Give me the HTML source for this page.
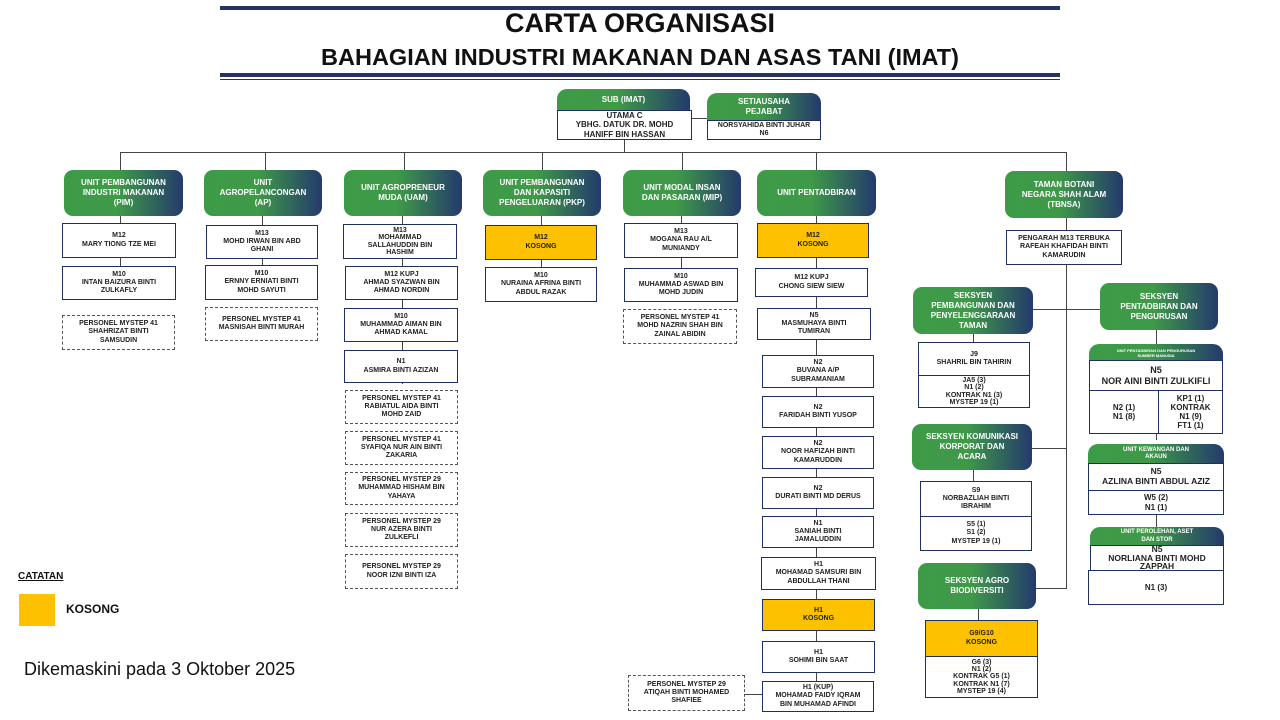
<!DOCTYPE html>
<html><head><meta charset="utf-8"><style>
body{margin:0;width:1280px;height:720px;background:#fff;position:relative;overflow:hidden;font-family:"Liberation Sans",sans-serif}
.a{position:absolute;display:flex;align-items:center;justify-content:center;text-align:center;font-weight:bold;font-size:7px;line-height:1.15;box-sizing:border-box;color:#222}
.h{background:linear-gradient(90deg,#3d9b47 0%,#3f9a48 45%,#243a6c 100%);color:#fff;border-radius:9px;font-size:8px;line-height:1.25}
.t{border-radius:10px 10px 0 0}
.b{border:1px solid #1f2f5e;background:#fff}
.d{border:1px dashed #555;background:#fff}
.y{background:#fdc100}
.l{position:absolute;background:#444}
</style></head><body>
<div class="l" style="left:220px;top:6px;width:840px;height:4px;background:#26335f"></div>
<div class="a" style="left:220px;top:9px;width:840px;height:30px;font-size:27px;color:#111">CARTA ORGANISASI</div>
<div class="a" style="left:200px;top:44px;width:880px;height:28px;font-size:23.5px;color:#111">BAHAGIAN INDUSTRI MAKANAN DAN ASAS TANI (IMAT)</div>
<div class="l" style="left:220px;top:73px;width:840px;height:4px;background:#26335f"></div>
<div class="l" style="left:220px;top:79px;width:840px;height:1px;background:#26335f"></div>

<!-- lines -->
<div class="l" style="left:120px;top:152px;width:946px;height:1px"></div>
<div class="l" style="left:624px;top:140px;width:1px;height:12px"></div>
<div class="l" style="left:692px;top:118px;width:15px;height:1px"></div>
<div class="l" style="left:120px;top:152px;width:1px;height:18px"></div>
<div class="l" style="left:265px;top:152px;width:1px;height:18px"></div>
<div class="l" style="left:404px;top:152px;width:1px;height:18px"></div>
<div class="l" style="left:542px;top:152px;width:1px;height:18px"></div>
<div class="l" style="left:682px;top:152px;width:1px;height:18px"></div>
<div class="l" style="left:816px;top:152px;width:1px;height:18px"></div>
<div class="l" style="left:1066px;top:152px;width:1px;height:19px"></div>
<div class="l" style="left:120px;top:216px;width:1px;height:84px"></div>
<div class="l" style="left:262px;top:216px;width:1px;height:84px"></div>
<div class="l" style="left:402px;top:216px;width:1px;height:168px"></div>
<div class="l" style="left:541px;top:216px;width:1px;height:52px"></div>
<div class="l" style="left:681px;top:216px;width:1px;height:86px"></div>
<div class="l" style="left:816px;top:216px;width:1px;height:480px"></div>
<div class="l" style="left:745px;top:694px;width:17px;height:1px"></div>
<div class="l" style="left:1066px;top:218px;width:1px;height:370px"></div>
<div class="l" style="left:1036px;top:588px;width:31px;height:1px"></div>
<div class="l" style="left:1032px;top:448px;width:35px;height:1px"></div>
<div class="l" style="left:1033px;top:309px;width:67px;height:1px"></div>
<div class="l" style="left:973px;top:334px;width:1px;height:8px"></div>
<div class="l" style="left:973px;top:470px;width:1px;height:11px"></div>
<div class="l" style="left:978px;top:609px;width:1px;height:11px"></div>
<div class="l" style="left:1156px;top:330px;width:1px;height:110px"></div>
<div class="l" style="left:1156px;top:515px;width:1px;height:12px"></div>

<!-- top -->
<div class="a h t" style="left:557px;top:89px;width:133px;height:22px">SUB (IMAT)</div>
<div class="a b" style="left:557px;top:110px;width:135px;height:30px;font-size:8px">UTAMA C<br>YBHG. DATUK DR. MOHD<br>HANIFF BIN HASSAN</div>
<div class="a h t" style="left:707px;top:93px;width:114px;height:28px">SETIAUSAHA<br>PEJABAT</div>
<div class="a b" style="left:707px;top:120px;width:114px;height:20px">NORSYAHIDA BINTI JUHAR<br>N6</div>

<!-- unit headers -->
<div class="a h" style="left:64px;top:170px;width:119px;height:46px">UNIT PEMBANGUNAN<br>INDUSTRI MAKANAN<br>(PIM)</div>
<div class="a h" style="left:204px;top:170px;width:118px;height:46px">UNIT<br>AGROPELANCONGAN<br>(AP)</div>
<div class="a h" style="left:344px;top:170px;width:118px;height:46px">UNIT AGROPRENEUR<br>MUDA (UAM)</div>
<div class="a h" style="left:483px;top:170px;width:118px;height:46px">UNIT PEMBANGUNAN<br>DAN KAPASITI<br>PENGELUARAN (PKP)</div>
<div class="a h" style="left:623px;top:170px;width:118px;height:46px">UNIT MODAL INSAN<br>DAN PASARAN (MIP)</div>
<div class="a h" style="left:757px;top:170px;width:119px;height:46px">UNIT PENTADBIRAN</div>
<div class="a h" style="left:1005px;top:171px;width:118px;height:47px">TAMAN BOTANI<br>NEGARA SHAH ALAM<br>(TBNSA)</div>

<!-- PIM -->
<div class="a b" style="left:62px;top:223px;width:114px;height:35px">M12<br>MARY TIONG TZE MEI</div>
<div class="a b" style="left:62px;top:266px;width:114px;height:34px">M10<br>INTAN BAIZURA BINTI<br>ZULKAFLY</div>
<div class="a d" style="left:62px;top:315px;width:113px;height:35px">PERSONEL MYSTEP 41<br>SHAHRIZAT BINTI<br>SAMSUDIN</div>
<!-- AP -->
<div class="a b" style="left:206px;top:225px;width:112px;height:34px">M13<br>MOHD IRWAN BIN ABD<br>GHANI</div>
<div class="a b" style="left:205px;top:265px;width:113px;height:35px">M10<br>ERNNY ERNIATI BINTI<br>MOHD SAYUTI</div>
<div class="a d" style="left:205px;top:307px;width:113px;height:34px">PERSONEL MYSTEP 41<br>MASNISAH BINTI MURAH</div>
<!-- UAM -->
<div class="a b" style="left:343px;top:224px;width:114px;height:35px;line-height:1.05">M13<br>MOHAMMAD<br>SALLAHUDDIN BIN<br>HASHIM</div>
<div class="a b" style="left:345px;top:266px;width:113px;height:34px">M12 KUPJ<br>AHMAD SYAZWAN BIN<br>AHMAD NORDIN</div>
<div class="a b" style="left:344px;top:308px;width:114px;height:34px">M10<br>MUHAMMAD AIMAN BIN<br>AHMAD KAMAL</div>
<div class="a b" style="left:344px;top:350px;width:114px;height:33px">N1<br>ASMIRA BINTI AZIZAN</div>
<div class="a d" style="left:345px;top:390px;width:113px;height:34px">PERSONEL MYSTEP 41<br>RABIATUL AIDA BINTI<br>MOHD ZAID</div>
<div class="a d" style="left:345px;top:431px;width:113px;height:34px">PERSONEL MYSTEP 41<br>SYAFIQA NUR AIN BINTI<br>ZAKARIA</div>
<div class="a d" style="left:345px;top:472px;width:113px;height:33px">PERSONEL MYSTEP 29<br>MUHAMMAD HISHAM BIN<br>YAHAYA</div>
<div class="a d" style="left:345px;top:513px;width:113px;height:34px">PERSONEL MYSTEP 29<br>NUR AZERA BINTI<br>ZULKEFLI</div>
<div class="a d" style="left:345px;top:554px;width:113px;height:35px">PERSONEL MYSTEP 29<br>NOOR IZNI BINTI IZA</div>
<!-- PKP -->
<div class="a b y" style="left:485px;top:225px;width:112px;height:35px">M12<br>KOSONG</div>
<div class="a b" style="left:485px;top:267px;width:112px;height:35px">M10<br>NURAINA AFRINA BINTI<br>ABDUL RAZAK</div>
<!-- MIP -->
<div class="a b" style="left:624px;top:223px;width:114px;height:35px">M13<br>MOGANA RAU A/L<br>MUNIANDY</div>
<div class="a b" style="left:624px;top:268px;width:114px;height:34px">M10<br>MUHAMMAD ASWAD BIN<br>MOHD JUDIN</div>
<div class="a d" style="left:623px;top:309px;width:114px;height:35px">PERSONEL MYSTEP 41<br>MOHD NAZRIN SHAH BIN<br>ZAINAL ABIDIN</div>
<!-- Pentadbiran -->
<div class="a b y" style="left:757px;top:223px;width:112px;height:35px">M12<br>KOSONG</div>
<div class="a b" style="left:755px;top:268px;width:113px;height:29px">M12 KUPJ<br>CHONG SIEW SIEW</div>
<div class="a b" style="left:757px;top:308px;width:114px;height:32px">N5<br>MASMUHAYA BINTI<br>TUMIRAN</div>
<div class="a b" style="left:762px;top:355px;width:112px;height:33px">N2<br>BUVANA A/P<br>SUBRAMANIAM</div>
<div class="a b" style="left:762px;top:396px;width:112px;height:32px">N2<br>FARIDAH BINTI YUSOP</div>
<div class="a b" style="left:762px;top:436px;width:112px;height:33px">N2<br>NOOR HAFIZAH BINTI<br>KAMARUDDIN</div>
<div class="a b" style="left:762px;top:477px;width:112px;height:32px">N2<br>DURATI BINTI MD DERUS</div>
<div class="a b" style="left:762px;top:516px;width:112px;height:32px">N1<br>SANIAH BINTI<br>JAMALUDDIN</div>
<div class="a b" style="left:761px;top:557px;width:115px;height:33px">H1<br>MOHAMAD SAMSURI BIN<br>ABDULLAH THANI</div>
<div class="a b y" style="left:762px;top:599px;width:113px;height:32px">H1<br>KOSONG</div>
<div class="a b" style="left:762px;top:641px;width:113px;height:32px">H1<br>SOHIMI BIN SAAT</div>
<div class="a b" style="left:762px;top:681px;width:112px;height:31px">H1 (KUP)<br>MOHAMAD FAIDY IQRAM<br>BIN MUHAMAD AFINDI</div>
<div class="a d" style="left:628px;top:675px;width:117px;height:36px">PERSONEL MYSTEP 29<br>ATIQAH BINTI MOHAMED<br>SHAFIEE</div>

<!-- TBNSA -->
<div class="a b" style="left:1006px;top:230px;width:116px;height:35px">PENGARAH M13 TERBUKA<br>RAFEAH KHAFIDAH BINTI<br>KAMARUDIN</div>
<div class="a h" style="left:913px;top:287px;width:120px;height:47px">SEKSYEN<br>PEMBANGUNAN DAN<br>PENYELENGGARAAN<br>TAMAN</div>
<div class="a b" style="left:918px;top:342px;width:112px;height:34px">J9<br>SHAHRIL BIN TAHIRIN</div>
<div class="a b" style="left:918px;top:375px;width:112px;height:33px;line-height:1.05">JA5 (3)<br>N1 (2)<br>KONTRAK N1 (3)<br>MYSTEP 19 (1)</div>
<div class="a h" style="left:912px;top:424px;width:120px;height:46px">SEKSYEN KOMUNIKASI<br>KORPORAT DAN<br>ACARA</div>
<div class="a b" style="left:920px;top:481px;width:112px;height:36px">S9<br>NORBAZLIAH BINTI<br>IBRAHIM</div>
<div class="a b" style="left:920px;top:516px;width:112px;height:35px">S5 (1)<br>S1 (2)<br>MYSTEP 19 (1)</div>
<div class="a h" style="left:918px;top:563px;width:118px;height:46px">SEKSYEN AGRO<br>BIODIVERSITI</div>
<div class="a b y" style="left:925px;top:620px;width:113px;height:37px">G9/G10<br>KOSONG</div>
<div class="a b" style="left:925px;top:656px;width:113px;height:42px;line-height:1.05">G6 (3)<br>N1 (2)<br>KONTRAK G5 (1)<br>KONTRAK N1 (7)<br>MYSTEP 19 (4)</div>

<div class="a h" style="left:1100px;top:283px;width:118px;height:47px">SEKSYEN<br>PENTADBIRAN DAN<br>PENGURUSAN</div>
<div class="a h t" style="left:1089px;top:344px;width:134px;height:17px;font-size:4px">UNIT PENTADBIRAN DAN PENGURUSAN<br>SUMBER MANUSIA</div>
<div class="a b" style="left:1089px;top:360px;width:134px;height:31px;font-size:9px">N5<br>NOR AINI BINTI ZULKIFLI</div>
<div class="a b" style="left:1089px;top:390px;width:70px;height:44px;font-size:8px">N2 (1)<br>N1 (8)</div>
<div class="a b" style="left:1158px;top:390px;width:65px;height:44px;font-size:8px">KP1 (1)<br>KONTRAK<br>N1 (9)<br>FT1 (1)</div>
<div class="a h t" style="left:1088px;top:444px;width:136px;height:20px;font-size:6px">UNIT KEWANGAN DAN<br>AKAUN</div>
<div class="a b" style="left:1088px;top:463px;width:136px;height:28px;font-size:8.5px">N5<br>AZLINA BINTI ABDUL AZIZ</div>
<div class="a b" style="left:1088px;top:490px;width:136px;height:25px;font-size:8px">W5 (2)<br>N1 (1)</div>
<div class="a h t" style="left:1090px;top:527px;width:134px;height:19px;font-size:6px">UNIT PEROLEHAN, ASET<br>DAN STOR</div>
<div class="a b" style="left:1090px;top:545px;width:134px;height:26px;font-size:8.5px;line-height:1.05">N5<br>NORLIANA BINTI MOHD<br>ZAPPAH</div>
<div class="a b" style="left:1088px;top:570px;width:136px;height:35px;font-size:8px">N1 (3)</div>

<!-- legend -->
<div style="position:absolute;left:18px;top:571px;font-size:10px;font-weight:bold;text-decoration:underline;color:#111">CATATAN</div>
<div style="position:absolute;left:19px;top:594px;width:36px;height:32px;background:#fdc100"></div>
<div style="position:absolute;left:66px;top:602px;font-size:12px;font-weight:bold;color:#111">KOSONG</div>
<div style="position:absolute;left:24px;top:659px;font-size:18px;color:#111">Dikemaskini pada 3 Oktober 2025</div>
</body></html>
